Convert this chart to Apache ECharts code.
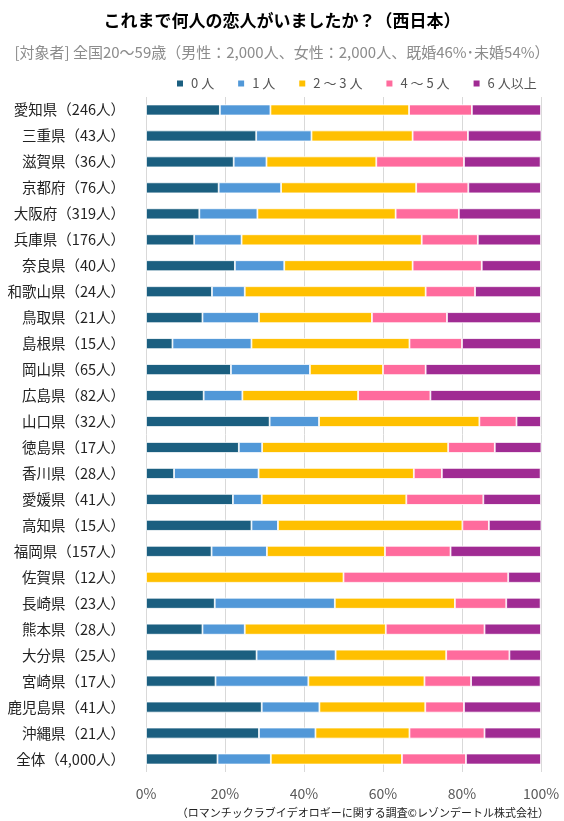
<!DOCTYPE html>
<html><head><meta charset="utf-8">
<script src="https://cdn.jsdelivr.net/npm/echarts@6/dist/echarts.min.js"></script>
<style>html,body{margin:0;padding:0;background:#fff}#c{width:564px;height:821px}</style>
</head><body><div id="c"></div>
<script>
const categories = ['愛知県（246人）','三重県（43人）','滋賀県（36人）','京都府（76人）','大阪府（319人）','兵庫県（176人）','奈良県（40人）','和歌山県（24人）','鳥取県（21人）','島根県（15人）','岡山県（65人）','広島県（82人）','山口県（32人）','徳島県（17人）','香川県（28人）','愛媛県（41人）','高知県（15人）','福岡県（157人）','佐賀県（12人）','長崎県（23人）','熊本県（28人）','大分県（25人）','宮崎県（17人）','鹿児島県（41人）','沖縄県（21人）','全体（4,000人）'];
const seriesNames = ['0人','1人','2～3人','4～5人','6人以上'];
const legendLabels = ['0 人','1 人','2 ～ 3 人','4 ～ 5 人','6 人以上'];
const v0 = [18.7,27.9,22.2,18.4,13.5,12.2,22.5,16.7,14.3,6.7,21.5,14.6,31.3,23.5,7.1,22.0,26.7,16.6,0,17.4,14.3,28.0,17.6,29.3,28.6,18.1];
const v1 = [12.8,14.0,8.3,15.8,14.7,12.0,12.5,8.3,14.3,20.0,20.0,9.8,12.5,5.9,21.4,7.3,6.7,14.0,0,30.4,10.7,20.0,23.5,14.6,14.3,13.5];
const v2 = [35.1,25.6,27.8,34.2,35.0,45.6,32.5,45.8,28.6,40.0,18.5,29.3,40.6,47.1,39.3,36.6,46.7,29.9,50.0,30.4,35.7,28.0,29.4,26.8,23.8,33.2];
const v3 = [15.9,14.0,22.2,13.2,16.0,14.2,17.5,12.5,19.0,13.3,10.8,18.3,9.4,11.8,7.1,19.5,6.7,16.6,41.7,13.0,25.0,16.0,11.8,9.8,19.0,16.2];
const v4 = [17.5,18.6,19.4,18.4,20.8,16.0,15.0,16.7,23.8,20.0,29.2,28.0,6.2,11.8,25.0,14.6,13.3,22.9,8.3,8.7,14.3,8.0,17.6,19.5,14.3,19.0];
const xTicks = ['0%','20%','40%','60%','80%','100%'];
const colors = ['#1b5f80','#5198d8','#ffc000','#ff6b9d','#a02b93'];
const values = [v0,v1,v2,v3,v4];

const chart = echarts.init(document.getElementById('c'));
chart.setOption({
  animation:false,
  title:[
    {text:'これまで何人の恋人がいましたか？（西日本）',left:'center',top:7,
     textStyle:{fontFamily:'Noto Sans CJK JP',fontSize:17,fontWeight:'bold',color:'#000'}},
    {text:'[対象者] 全国20～59歳（男性：2,000人、女性：2,000人、既婚46%･未婚54%）',left:'center',top:40,
     textStyle:{fontFamily:'Noto Sans CJK JP',fontSize:15,fontWeight:'normal',color:'#8c8c8c'}},
    {text:'（ロマンチックラブイデオロギーに関する調査©レゾンデートル株式会社）',right:10,top:802,
     textStyle:{fontFamily:'Noto Sans CJK JP',fontSize:11,fontWeight:'normal',color:'#222'}}
  ],
  legend:{data:seriesNames,top:72,left:170,itemWidth:8,itemHeight:8,itemGap:22,icon:'rect',
    textStyle:{fontFamily:'Noto Sans CJK JP',fontSize:13,color:'#555',padding:[0,0,0,2]},
    formatter:n=>legendLabels[seriesNames.indexOf(n)]},
  grid:{left:146,right:23,top:97,bottom:49,containLabel:false},
  xAxis:{type:'value',min:0,max:100,interval:20,
    axisLabel:{formatter:v=>xTicks[v/20],fontFamily:'Noto Sans CJK JP',fontSize:14,color:'#595959',margin:15},
    axisLine:{show:false},axisTick:{show:false},
    splitLine:{lineStyle:{color:'#d9d9d9',width:1}}},
  yAxis:{type:'category',data:categories,inverse:true,
    axisLine:{show:false},axisTick:{show:false},
    axisLabel:{fontFamily:'Noto Sans CJK JP',fontSize:14.5,color:'#222',margin:21}},
  series:values.map((d,i)=>({
    name:seriesNames[i],type:'bar',stack:'all',data:d,barWidth:11,
    itemStyle:{color:colors[i],borderColor:'#fff',borderWidth:0.8}
  }))
});
</script></body></html>
